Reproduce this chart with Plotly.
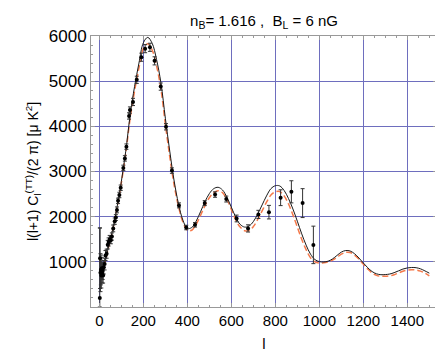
import plotly.graph_objs as go

# theory curves, sampled every 20 in l
ell = [2, 10, 20, 40, 60, 80, 100, 120, 140, 160, 180, 200, 220, 240, 260, 280, 300,
       320, 340, 360, 380, 400, 420, 440, 460, 480, 500, 520, 540, 560, 580, 600,
       620, 640, 660, 680, 700, 720, 740, 760, 780, 800, 820, 840, 860, 880, 900,
       920, 940, 960, 980, 1000, 1020, 1040, 1060, 1080, 1100, 1120, 1140, 1160,
       1180, 1200, 1220, 1240, 1260, 1280, 1300, 1320, 1340, 1360, 1380, 1400,
       1420, 1440, 1460, 1480, 1500]
cl_solid = [1050, 900, 930, 1300, 1700, 2200, 2780, 3450, 4250, 4880, 5400, 5850, 5970,
            5840, 5480, 4960, 4180, 3450, 2790, 2280, 1920, 1740, 1760, 1900, 2110,
            2330, 2510, 2620, 2650, 2590, 2430, 2210, 1990, 1830, 1770, 1790, 1890,
            2060, 2260, 2460, 2620, 2685, 2680, 2580, 2400, 2170, 1900, 1620, 1370,
            1170, 1050, 1005, 997, 1015, 1065, 1140, 1215, 1250, 1240, 1180, 1085,
            975, 870, 785, 735, 715, 718, 730, 760, 800, 840, 865, 875, 870, 845,
            800, 750]
cl_dashed = [1050, 900, 930, 1290, 1690, 2180, 2750, 3400, 4180, 4780, 5290, 5720, 5830,
             5690, 5340, 4820, 4050, 3330, 2700, 2220, 1880, 1700, 1700, 1830, 2030,
             2240, 2420, 2530, 2575, 2530, 2380, 2160, 1930, 1770, 1690, 1690, 1780,
             1940, 2130, 2320, 2480, 2550, 2555, 2460, 2280, 2040, 1770, 1500, 1270,
             1090, 1000, 975, 980, 1000, 1040, 1100, 1170, 1210, 1205, 1150, 1060,
             950, 840, 755, 700, 680, 680, 690, 715, 755, 790, 815, 825, 820, 795,
             750, 690]

# measured band powers
data_l = [2, 3, 5, 7, 9, 11, 13, 15, 17, 20, 24, 28, 33, 38, 42, 47, 52, 57, 63, 70,
          75, 80, 85, 91, 97, 109, 116, 123, 135, 139, 153, 170, 191, 208, 230, 251,
          279, 303, 330, 362, 395, 435, 479, 526, 577, 624, 676, 723, 771, 824, 873,
          924, 973]
data_cl = [200, 1080, 760, 820, 700, 860, 740, 800, 700, 880, 950, 1140, 1180, 1380,
           1440, 1500, 1480, 1560, 1740, 1900, 1980, 2150, 2350, 2480, 2640, 3080,
           3290, 3550, 4230, 4360, 4540, 5030, 5530, 5720, 5750, 5450, 4880, 3990,
           3020, 2250, 1760, 1820, 2300, 2490, 2390, 1960, 1740, 2050, 2100, 2420,
           2550, 2300, 1375]
data_err = [1550, 670, 420, 330, 280, 240, 210, 190, 170, 150, 130, 110, 100, 95, 90,
            85, 80, 80, 75, 70, 65, 65, 60, 60, 60, 60, 60, 60, 70, 70, 80, 80, 90,
            90, 90, 90, 80, 70, 60, 55, 50, 50, 55, 60, 65, 75, 80, 90, 150, 175, 245,
            320, 415]
data_errminus = [200] + data_err[1:]

font = 'Liberation Sans, Arial, sans-serif'

solid = go.Scatter(x=ell, y=cl_solid, mode='lines', line=dict(color='#1a1a1a', width=1, shape='spline'))
dashed = go.Scatter(x=ell, y=cl_dashed, mode='lines',
                    line=dict(color='#f5794a', width=1.5, dash='6px,3px', shape='spline'))
points = go.Scatter(x=data_l, y=data_cl, mode='markers',
                    marker=dict(color='black', size=4),
                    error_y=dict(type='data', array=data_err, arrayminus=data_errminus,
                                 color='#333333', thickness=1, width=2))
data = [dashed, solid, points]

axis_common = dict(showline=True, linecolor='#999999', linewidth=1, mirror='allticks',
                   showgrid=True, gridcolor='#6e6ebe', gridwidth=1, zeroline=False,
                   ticks='inside', ticklen=4, tickcolor='#999999')

layout = go.Layout(
    width=443, height=354,
    margin=dict(l=83, r=14, t=28, b=51),
    paper_bgcolor='white', plot_bgcolor='white',
    showlegend=False,
    font=dict(family=font, color='black'),
    title=dict(text='n<sub>B</sub>= 1.616 ,  B<sub>L</sub> = 6 nG', x=0.578, xanchor='center',
               y=0.965, yanchor='middle', font=dict(size=15)),
    xaxis=dict(range=[-38, 1535], tickvals=[0, 200, 400, 600, 800, 1000, 1200, 1400],
               tickfont=dict(size=15),
               minor=dict(dtick=50, ticks='inside', ticklen=2, tickcolor='#999999', showgrid=False),
               title=dict(text='l', font=dict(size=15), standoff=10), **axis_common),
    yaxis=dict(range=[0, 6000], tickvals=[1000, 2000, 3000, 4000, 5000, 6000],
               tickfont=dict(size=17),
               minor=dict(dtick=200, ticks='inside', ticklen=2, tickcolor='#999999', showgrid=False),
               title=dict(text='l(l+1) C<sub>l</sub><sup>(TT)</sup>/(2 π) [μ K<sup>2</sup>]',
                          font=dict(size=14), standoff=6), **axis_common),
)

fig = go.Figure(data=data, layout=layout)
fig.write_html("out.html")
